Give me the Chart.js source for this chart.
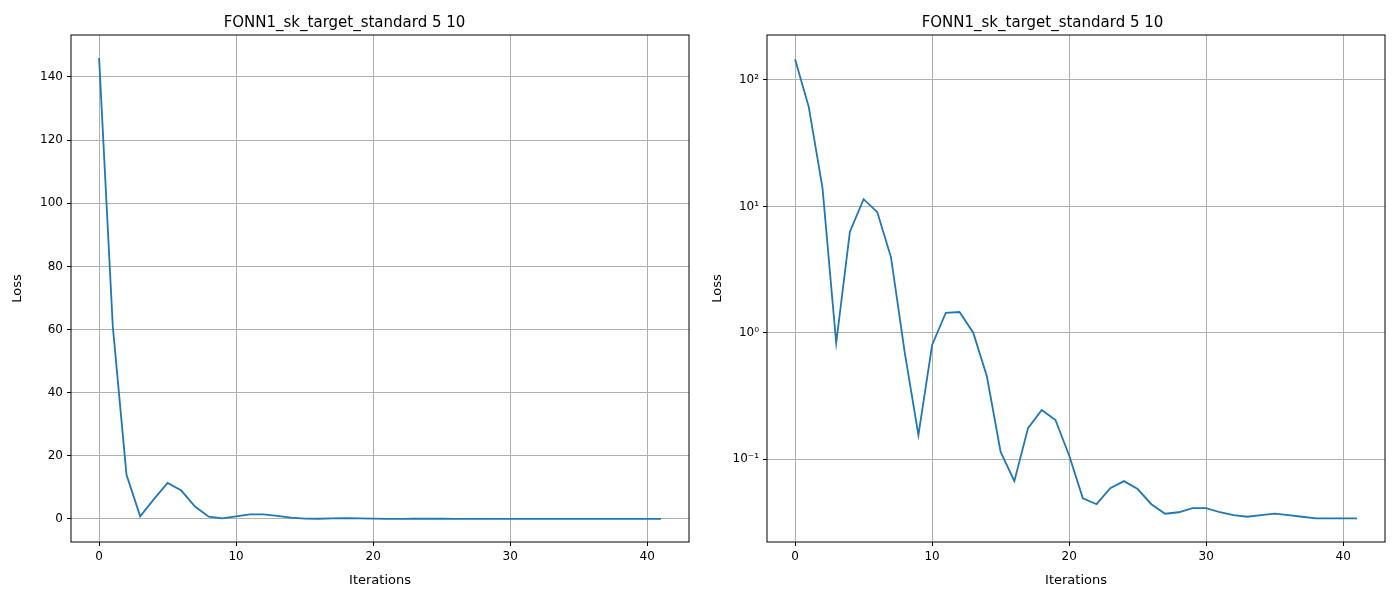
<!DOCTYPE html>
<html>
<head>
<meta charset="utf-8">
<script src="https://cdn.jsdelivr.net/npm/chart.js@4"></script>
<style>
body { margin: 0; background: #fff; }
.box { position: absolute; top: 0; width: 700px; height: 600px; }
</style>
</head>
<body>
<div class="box" style="left:0"><canvas id="linChart"></canvas></div>
<div class="box" style="left:700px"><canvas id="logChart"></canvas></div>
<script>
const iterations = Array.from({ length: 42 }, (_, i) => i);
const loss = [146, 61, 14, 0.83, 6.3, 11.4, 9.0, 3.95, 0.7, 0.155, 0.8, 1.44, 1.46, 1.0, 0.45,
  0.114, 0.067, 0.176, 0.245, 0.204, 0.107, 0.049, 0.044, 0.059, 0.067, 0.058, 0.044, 0.037,
  0.038, 0.041, 0.041, 0.038, 0.036, 0.035, 0.036, 0.037, 0.036, 0.035, 0.034, 0.034, 0.034, 0.034];
const xTicks = [0, 10, 20, 30, 40];
const linTicks = [0, 20, 40, 60, 80, 100, 120, 140];
const logTicks = [0.1, 1, 10, 100];
const logLabels = { 0.1: "10⁻¹", 1: "10⁰", 10: "10¹", 100: "10²" };
const titleText = "FONN1_sk_target_standard 5 10";

Chart.defaults.font.family = "DejaVu Sans";
Chart.defaults.color = "#000";

const frame = {
  id: "frame",
  afterDraw(chart) {
    const a = chart.chartArea, c = chart.ctx;
    c.save();
    c.strokeStyle = "#000";
    c.lineWidth = 1;
    c.strokeRect(a.left, a.top, a.right - a.left, a.bottom - a.top);
    c.restore();
  }
};

function makeChart(id, yType, yMin, yMax, yTicks, fmt, yWidth, padRight) {
  const points = iterations.map((x, i) => ({ x: x, y: loss[i] }));
  return new Chart(document.getElementById(id), {
    type: "line",
    data: { datasets: [{ data: points, borderColor: "#1f77b4", borderWidth: 1.8, pointRadius: 0, tension: 0 }] },
    options: {
      responsive: true, maintainAspectRatio: false, animation: false,
      layout: { padding: { right: padRight, top: 0 } },
      plugins: {
        legend: { display: false },
        tooltip: { enabled: false },
        title: { display: true, text: titleText, font: { size: 15, weight: "normal" }, padding: { top: 14, bottom: 3 } }
      },
      scales: {
        x: {
          type: "linear", min: -2.05, max: 43.05,
          afterBuildTicks: s => { s.ticks = xTicks.map(v => ({ value: v })); },
          afterFit: s => { s.height = 58; },
          grid: { color: "#b0b0b0", tickColor: "#000", tickLength: 4 },
          border: { display: false },
          ticks: { font: { size: 12 }, padding: 4, maxRotation: 0 },
          title: { display: true, text: "Iterations", font: { size: 13 }, padding: { top: 2, bottom: 12 } }
        },
        y: {
          type: yType, min: yMin, max: yMax,
          afterBuildTicks: s => { s.ticks = yTicks.map(v => ({ value: v })); },
          afterFit: s => { s.width = yWidth; },
          grid: { color: "#b0b0b0", tickColor: "#000", tickLength: 4 },
          border: { display: false },
          ticks: { font: { size: 12 }, padding: 4, callback: fmt },
          title: { display: true, text: "Loss", font: { size: 13 }, padding: { top: 10, bottom: 4 } }
        }
      }
    },
    plugins: [frame]
  });
}

makeChart("linChart", "linear", -7.3, 153.3, linTicks, v => v, 71, 11);
makeChart("logChart", "logarithmic", 0.0221, 227, logTicks, v => logLabels[v] || "", 67, 15);
</script>
</body>
</html>
